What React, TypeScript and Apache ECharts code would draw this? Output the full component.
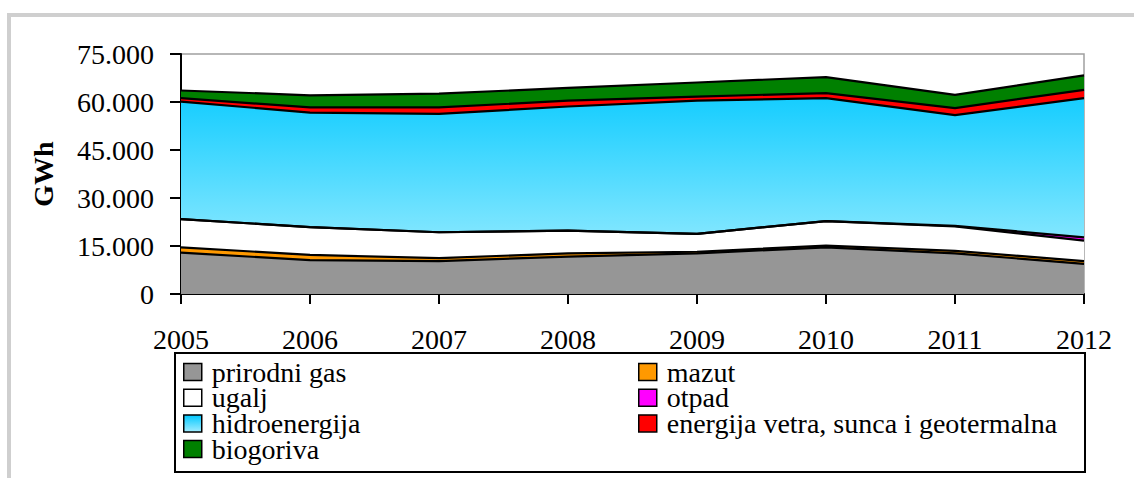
import React, { useEffect, useRef } from 'react';
import * as echarts from 'echarts';

const years = ['2005', '2006', '2007', '2008', '2009', '2010', '2011', '2012'];
const prirodniGas = [12900, 10600, 10300, 11700, 12700, 14600, 12700, 9400];
const mazut = [1700, 1600, 900, 1000, 500, 500, 800, 900];
const ugalj = [8800, 8700, 8100, 7100, 5600, 7700, 7600, 6400];
const otpad = [0, 0, 0, 0, 0, 0, 200, 1000];
const hidroenergija = [36700, 35800, 37000, 38800, 41600, 38400, 34600, 43500];
const vetarSunce = [1100, 1600, 2000, 1800, 1300, 1600, 2200, 2600];
const biogoriva = [2400, 3800, 4300, 4000, 4400, 5000, 4100, 4500];

const names = [
  'prirodni gas',
  'mazut',
  'ugalj',
  'otpad',
  'hidroenergija',
  'energija vetra, sunca i geotermalna',
  'biogoriva',
];
const leftLegend = ['prirodni gas', 'ugalj', 'hidroenergija', 'biogoriva'];
const rightLegend = ['mazut', 'otpad', 'energija vetra, sunca i geotermalna'];

const FONT = 'Liberation Serif';

export default function App() {
  const ref = useRef<HTMLDivElement>(null);
  useEffect(() => {
    const chart = echarts.init(ref.current!, null, { renderer: 'svg' });
    const hydroArea = {
      type: 'linear', x: 0, y: 70, x2: 0, y2: 245, global: true,
      colorStops: [
        { offset: 0, color: '#00C8FF' },
        { offset: 1, color: '#88E8FF' },
      ],
    };
    const hydroIcon = {
      type: 'linear', x: 0, y: 0, x2: 0, y2: 1,
      colorStops: [
        { offset: 0, color: '#00C8FF' },
        { offset: 1, color: '#A0ECFF' },
      ],
    };
    const dataSets = [prirodniGas, mazut, ugalj, otpad, hidroenergija, vetarSunce, biogoriva];
    const colors: any[] = ['#969696', '#FF9900', '#FFFFFF', '#FF00FF', hydroIcon, '#FF0000', '#008000'];
    const areaColors: any[] = ['#969696', '#FF9900', '#FFFFFF', '#FF00FF', hydroArea, '#FF0000', '#008000'];
    const series = names.map((n, i) => ({
      name: n,
      type: 'line',
      stack: 'total',
      data: dataSets[i],
      showSymbol: false,
      symbol: 'none',
      lineStyle: { color: '#000', width: 2.2 },
      itemStyle: { color: colors[i] },
      areaStyle: { color: areaColors[i], opacity: 1 },
      z: 2,
    }));
    const legendCommon = {
      orient: 'vertical',
      icon: 'rect',
      itemWidth: 18,
      itemHeight: 17,
      itemGap: -2.3,
      padding: 0,
      height: 112,
      selectedMode: false,
      itemStyle: { borderColor: '#000', borderWidth: 1.5 },
      textStyle: { fontFamily: FONT, fontSize: 28, color: '#000', padding: [0, 0, 0, 5] },
    };
    chart.setOption({
      animation: false,
      backgroundColor: '#fff',
      grid: {
        left: 181, right: 50, top: 54, bottom: 184,
        show: true, borderColor: '#a0a0a0', borderWidth: 1.5, backgroundColor: 'transparent',
      },
      xAxis: {
        type: 'category',
        data: years,
        boundaryGap: false,
        axisLine: { lineStyle: { color: '#000', width: 2 } },
        axisTick: { show: true, length: 10, lineStyle: { color: '#000', width: 2 } },
        axisLabel: { fontFamily: FONT, fontSize: 28, color: '#000', margin: 31 },
        splitLine: { show: false },
      },
      yAxis: {
        type: 'value',
        min: 0,
        max: 75000,
        interval: 15000,
        name: 'GWh',
        nameLocation: 'middle',
        nameGap: 124,
        nameRotate: 90,
        nameTextStyle: { fontFamily: FONT, fontSize: 28, fontWeight: 'bold', color: '#000' },
        axisLine: { show: true, lineStyle: { color: '#000', width: 2 } },
        axisTick: { show: true, length: 11, lineStyle: { color: '#000', width: 2 } },
        axisLabel: {
          fontFamily: FONT, fontSize: 28, color: '#000', margin: 27,
          formatter: (v: number) => String(v).replace(/\B(?=(\d{3})+(?!\d))/g, '.'),
        },
        splitLine: { show: false },
      },
      legend: [
        { ...legendCommon, left: 183, top: 358, data: leftLegend },
        { ...legendCommon, left: 638, top: 358, data: rightLegend },
      ],
      graphic: [
        {
          type: 'rect', silent: true, z: 100,
          shape: { x: 9, y: 15, width: 1300, height: 700 },
          style: { fill: 'none', stroke: '#cfcfcf', lineWidth: 4 },
        },
        {
          type: 'rect', silent: true, z: 100,
          shape: { x: 175, y: 353, width: 910, height: 119 },
          style: { fill: 'none', stroke: '#000', lineWidth: 2 },
        },
      ],
      series,
    });
    return () => chart.dispose();
  }, []);
  return (
    <div
      ref={ref}
      style={{ position: 'fixed', left: 0, top: 0, width: 1134, height: 478, background: '#fff' }}
    />
  );
}
